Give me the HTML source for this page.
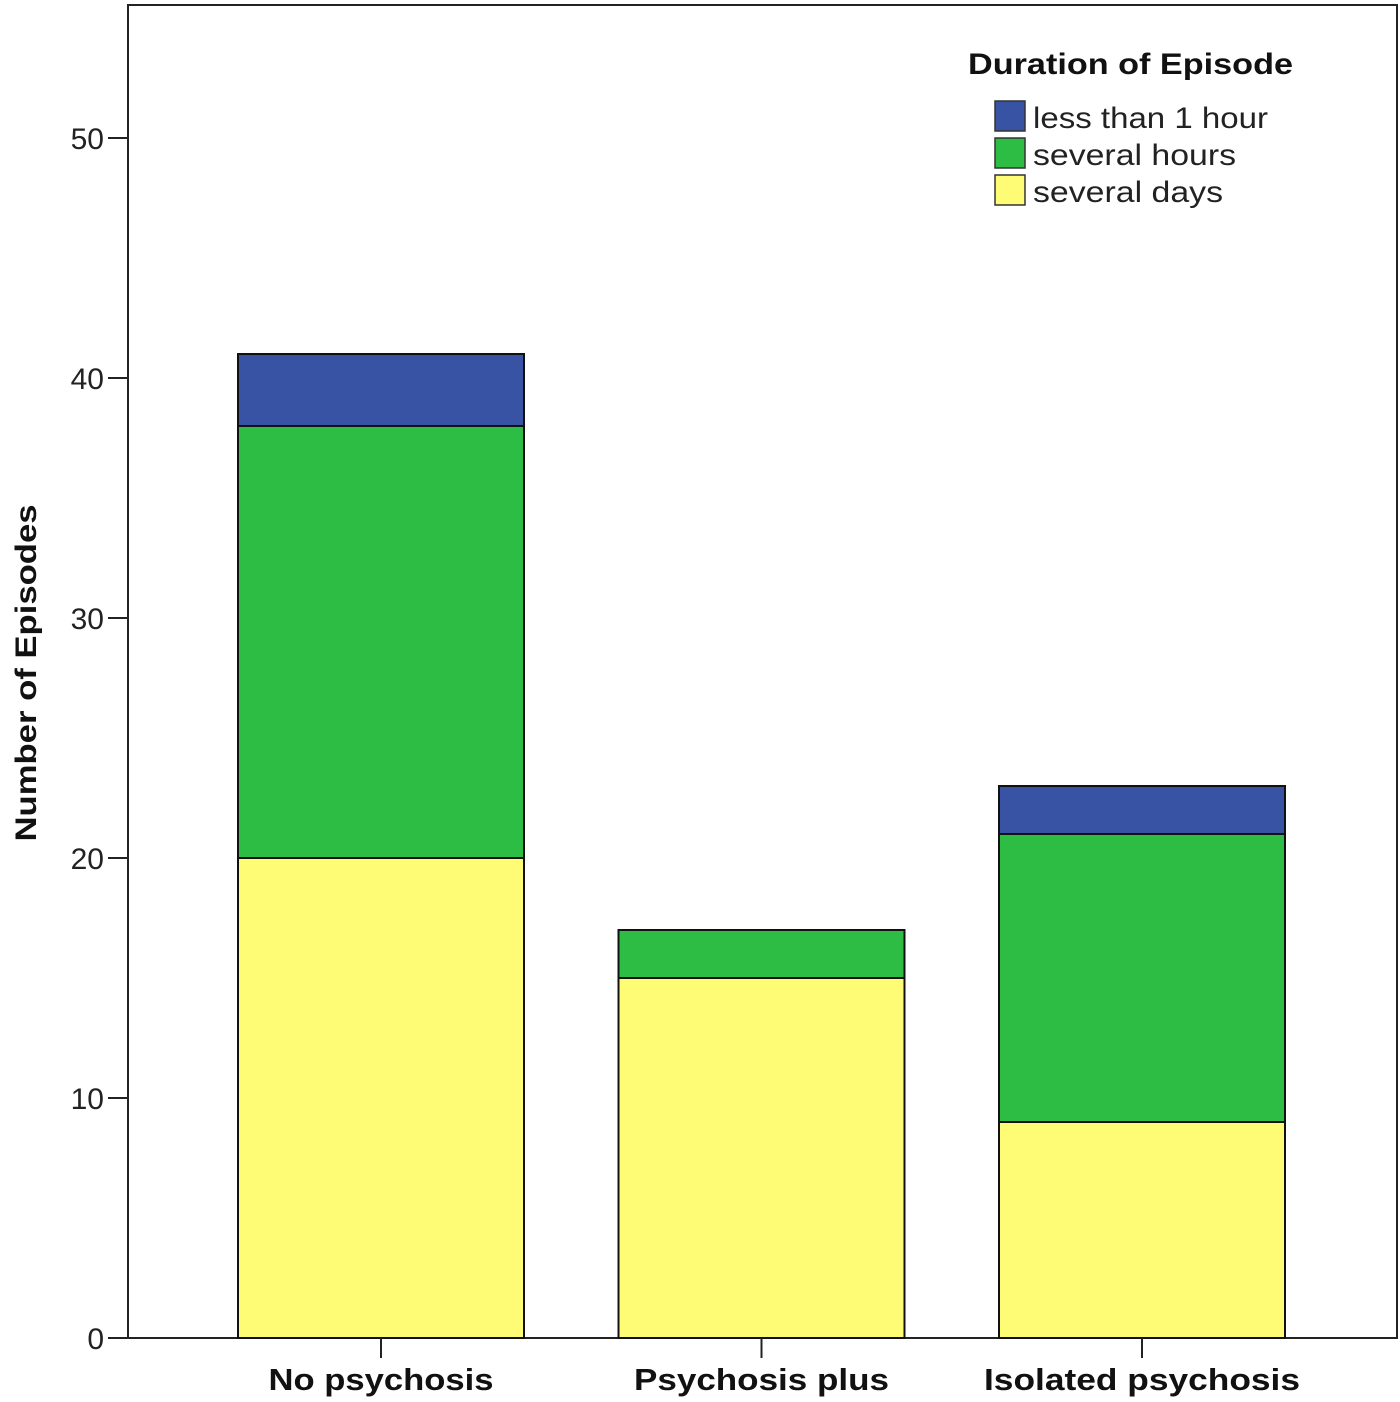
<!DOCTYPE html>
<html><head><meta charset="utf-8"><style>
html,body{margin:0;padding:0;background:#fff;}
svg{display:block;font-family:"Liberation Sans",sans-serif;}
</style></head><body>
<svg id="chart" width="1400" height="1402" viewBox="0 0 1400 1402">
<rect x="128" y="5" width="1269" height="1333" fill="#fff" stroke="#222" stroke-width="2"/>
<g id="grid"></g>
<g id="bars"></g>
<text transform="translate(36,673) rotate(-90)" text-anchor="middle" font-size="30" font-weight="bold" fill="#111" textLength="337" lengthAdjust="spacingAndGlyphs">Number of Episodes</text>
<g>
<text x="968" y="74" font-size="30" font-weight="bold" fill="#111" textLength="325" lengthAdjust="spacingAndGlyphs">Duration of Episode</text>
<g id="legend-items"></g>
</g>
</svg>
<script>
const categories = ["No psychosis", "Psychosis plus", "Isolated psychosis"];
const severalDays = [20, 15, 9];
const severalHours = [18, 2, 12];
const lessThanHour = [3, 0, 2];
const yTicks = [0, 10, 20, 30, 40, 50];
const seriesNames = ["less than 1 hour", "several hours", "several days"];
const colors = {"less than 1 hour":"#3953a4","several hours":"#2dbd45","several days":"#fdfc74"};
const catLabelWidth = {"No psychosis":225,"Psychosis plus":255,"Isolated psychosis":316};
const legLabelWidth = {"less than 1 hour":235,"several hours":203,"several days":190};

const NS = "http://www.w3.org/2000/svg";
const y = v => 1338 - v * 24;
const xc = i => 381 + i * 380.5;
const bw = 286;
function mk(tag, attrs, parent){const e=document.createElementNS(NS,tag);for(const k in attrs)e.setAttribute(k,attrs[k]);parent.appendChild(e);return e;}

const grid = document.getElementById('grid');
yTicks.forEach(t=>{
  const l = mk('line',{x1:108,x2:128,y1:y(t),y2:y(t),stroke:'#222','stroke-width':2},grid);
  
  
  const tx = mk('text',{x:104,y:y(t)+11,'text-anchor':'end','font-size':30,fill:'#222'},grid);
  tx.textContent = t;
  
  
});

const bars = document.getElementById('bars');
categories.forEach((c,i)=>{
  const stack = [["several days",severalDays[i]],["several hours",severalHours[i]],["less than 1 hour",lessThanHour[i]]];
  let base = 0;
  stack.forEach(([name,v])=>{
    if(v>0){
      const r = mk('rect',{x:xc(i)-bw/2,y:y(base+v),width:bw,height:v*24,fill:colors[name],stroke:'#111','stroke-width':2},bars);
      
      
    }
    base += v;
  });
  const tk = mk('line',{x1:xc(i),x2:xc(i),y1:1338,y2:1358,stroke:'#222','stroke-width':2},bars);
  
  
  const lb = mk('text',{x:xc(i),y:1390,'text-anchor':'middle','font-size':31,'font-weight':'bold',fill:'#111',textLength:catLabelWidth[c]||c.length*18,lengthAdjust:'spacingAndGlyphs'},bars);
  lb.textContent = c;
  
  
});

const li = document.getElementById('legend-items');
seriesNames.forEach((n,k)=>{
  const yy = 101 + k*37;
  const r = mk('rect',{x:995,y:yy,width:30,height:30,fill:colors[n],stroke:'#333','stroke-width':1.5},li);
  
  
  const t = mk('text',{x:1033,y:yy+27,'font-size':30,fill:'#222',textLength:legLabelWidth[n]||n.length*15,lengthAdjust:'spacingAndGlyphs'},li);
  t.textContent = n;
  
  
});
</script>
</body></html>
